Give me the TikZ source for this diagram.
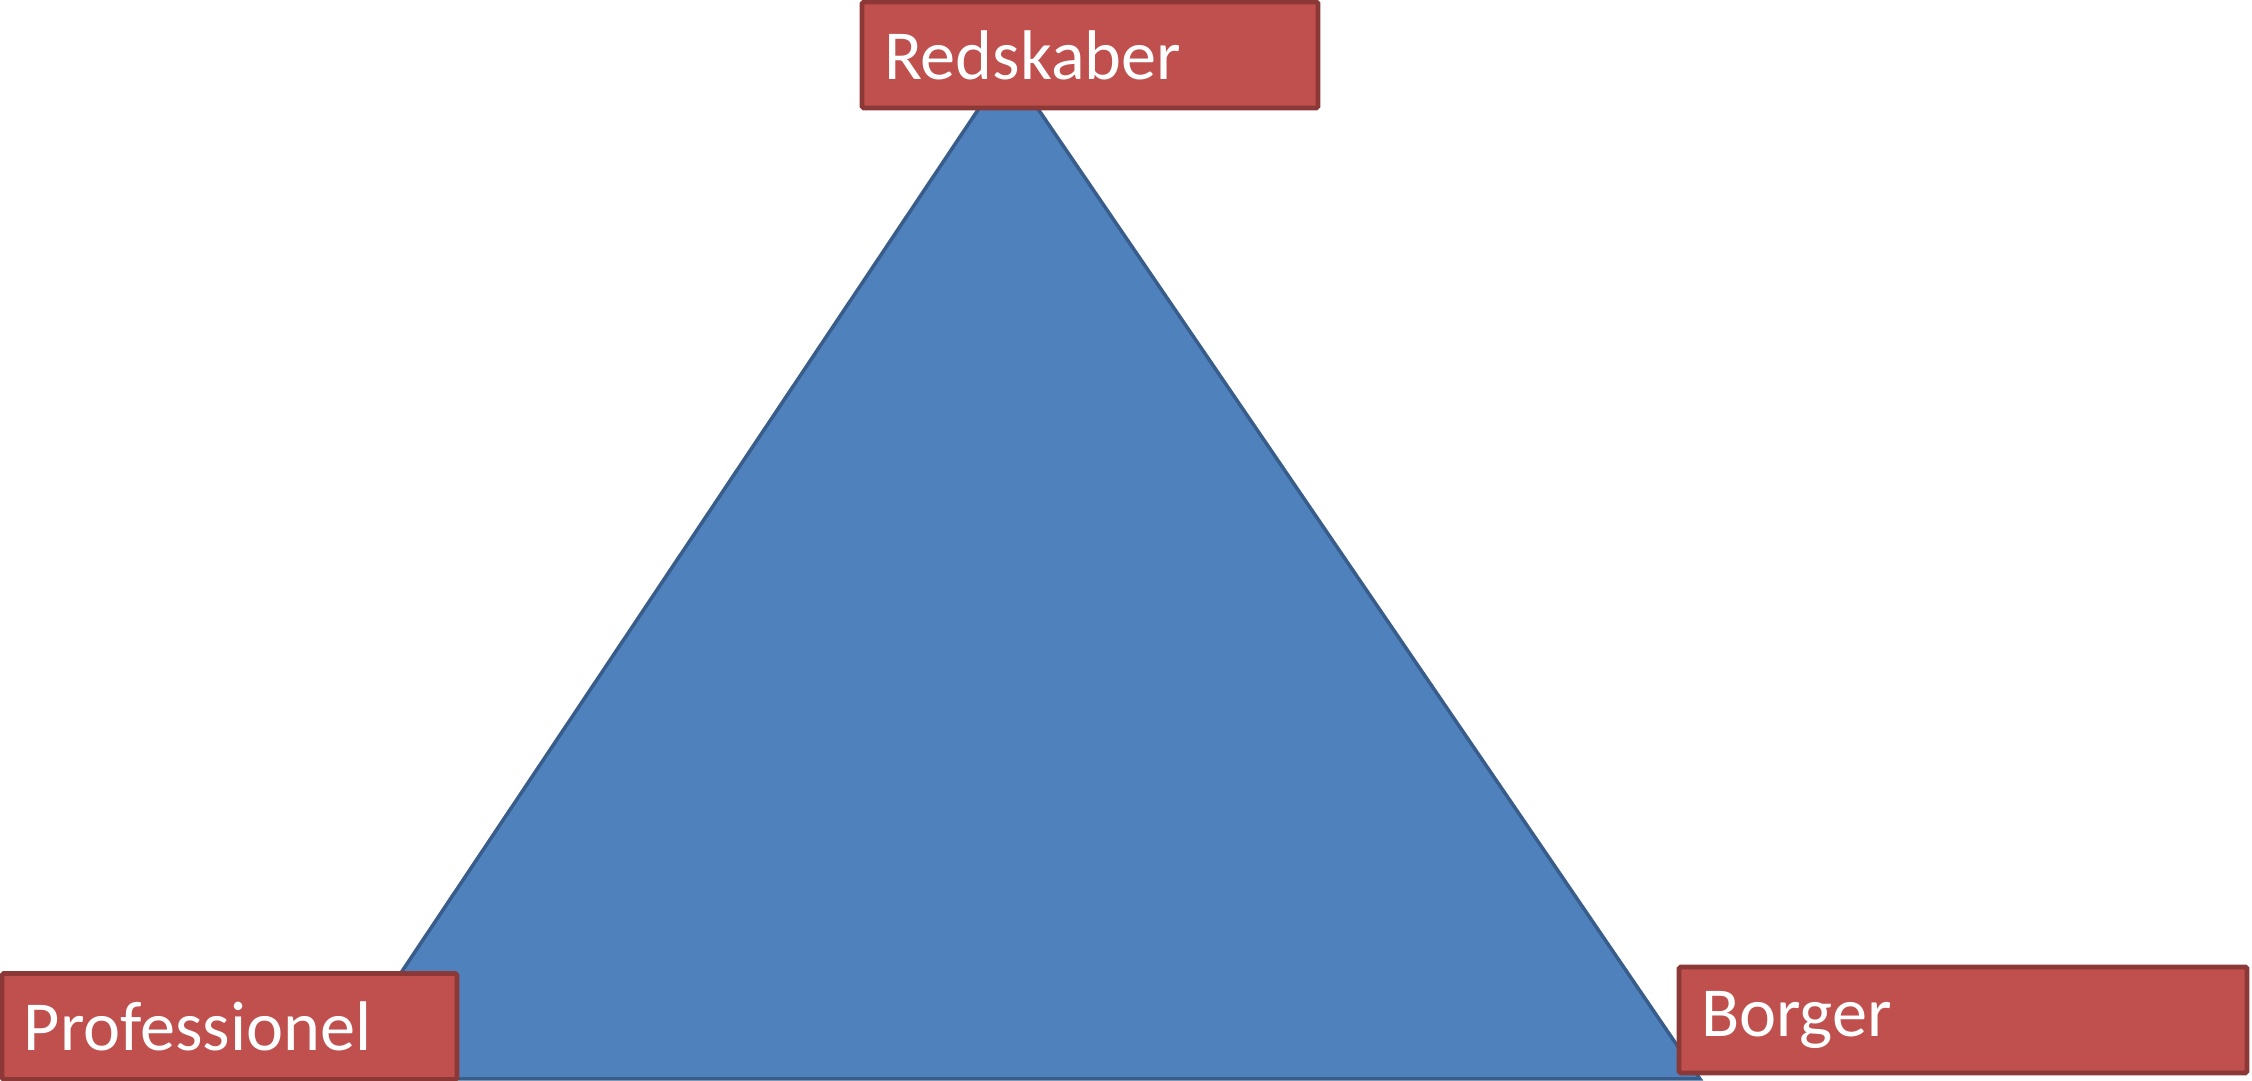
\documentclass[tikz,border=0pt]{standalone}
\usepackage{fontspec}
\setmainfont{Carlito}
\definecolor{triblue}{HTML}{4F81BD}
\definecolor{triedge}{HTML}{385D8A}
\definecolor{boxred}{HTML}{C0504D}
\definecolor{boxedge}{HTML}{8C3836}
\tikzset{
  rolebox/.style={draw=boxedge, fill=boxred, line width=1.4pt, rounded corners=0.5pt,
    minimum height=1.06cm, inner xsep=0.22cm, align=left, text=white,
    font=\fontsize{20}{24}\selectfont}
}
\begin{document}
\begin{tikzpicture}
\useasboundingbox (0,0) rectangle (22.52,10.81);
\coordinate (top) at (10.08,10.16);
\coordinate (left) at (3.30,0.02);
\coordinate (right) at (17.00,0.02);
\fill[triblue, draw=triedge, line width=1pt] (top) -- (left) -- (right) -- cycle;
\node[rolebox, text width=4.12cm] (tools) at (10.90,10.26) {Redskaber};
\node[rolebox, text width=4.11cm] (prof) at (2.295,0.545) {Professionel};
\node[rolebox, text width=5.24cm] (citizen) at (19.63,0.61) {Borger};
\end{tikzpicture}
\end{document}
